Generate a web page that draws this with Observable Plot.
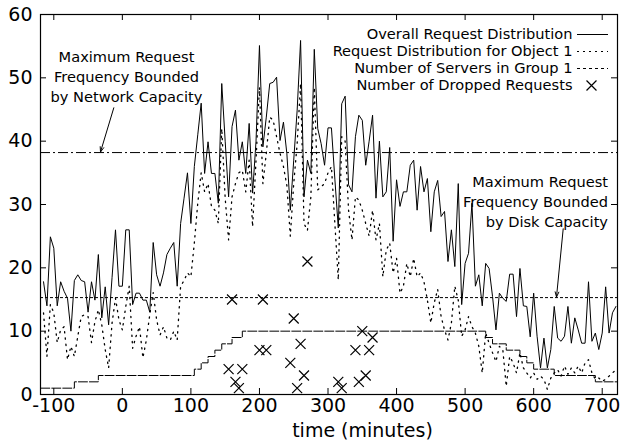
<!DOCTYPE html>
<html><head><meta charset="utf-8">
<script src="https://cdn.jsdelivr.net/npm/d3@7"></script>
<script src="https://cdn.jsdelivr.net/npm/@observablehq/plot@0.6"></script>
<style>html,body{margin:0;padding:0;background:#fff;}</style>
</head><body><div id="chart"></div>
<script>
// sampling grid of the request traces (minutes)
const sampleStart = -115;
const sampleStep = 5;

// Overall Request Distribution (solid)
const overall = [
17.8,14.0,24.9,23.1,14.0,17.8,16.3,15.2,10.0,18.0,
18.9,18.0,17.8,13.0,17.8,14.9,22.1,12.1,17.0,11.0,
18.5,26.0,17.1,17.1,26.0,26.0,14.2,16.0,16.0,14.9,
14.9,13.0,24.0,18.9,17.1,19.2,22.1,23.1,24.0,17.1,
27.0,31.0,35.0,27.0,36.0,41.0,46.0,34.9,39.9,34.9,
34.9,30.2,49.1,40.0,31.2,42.3,44.9,37.0,39.9,34.9,
42.8,31.8,40.0,55.1,39.1,43.8,49.1,49.3,50.1,40.1,
43.0,38.0,29.1,37.0,44.9,55.9,31.2,37.0,34.9,54.5,
42.0,39.6,36.2,42.1,42.1,34.0,26.3,45.9,47.1,33.1,
32.0,40.7,44.1,43.3,36.2,40.0,44.1,31.0,40.0,31.2,
32.0,39.0,24.2,33.9,29.7,32.0,32.0,36.2,37.0,29.1,
36.0,32.0,34.1,25.7,32.0,33.8,28.1,28.9,21.0,26.0,
20.2,33.3,14.2,20.7,22.3,30.2,17.1,18.9,14.0,20.7,
19.9,15.5,10.2,16.0,15.2,14.7,19.0,19.0,12.3,19.9,
14.0,13.9,9.1,16.0,9.2,4.2,8.9,4.2,7.1,13.9,
8.9,8.4,9.2,13.9,8.1,12.1,10.2,8.1,8.1,17.8,
8.4,9.7,7.1,9.7,17.0,9.7,12.9,13.9
];

// Request Distribution for Object 1 (dotted)
const object1 = [
12.9,6.0,14.2,12.9,8.2,10.2,10.7,5.5,7.6,6.0,
9.2,12.3,12.6,12.3,8.2,11.5,13.4,11.0,7.1,4.2,
11.3,15.2,11.8,10.2,13.9,17.1,7.3,9.2,10.7,5.8,
8.6,12.6,16.1,11.8,9.4,10.7,8.9,8.6,10.0,8.6,
17.1,18.0,19.2,18.6,23.9,30.2,35.0,32.0,33.3,29.7,
29.1,27.0,42.0,31.0,24.4,31.2,33.3,35.0,35.4,32.0,
37.0,26.5,37.0,48.5,33.3,38.1,43.8,43.3,40.7,38.1,
36.0,33.0,25.0,33.3,39.6,49.1,27.0,25.9,31.2,48.5,
32.3,32.8,33.3,35.0,36.0,27.0,18.1,40.7,40.0,29.1,
24.4,31.2,30.7,29.1,27.0,25.0,29.1,24.4,27.0,18.6,
22.8,23.9,19.2,21.5,16.0,17.1,20.7,18.6,21.5,18.6,
19.2,17.8,14.9,11.3,14.5,16.6,12.3,10.2,8.6,11.3,
17.1,14.9,9.2,10.2,12.3,10.7,9.7,7.6,3.4,9.7,
8.1,6.6,5.2,7.6,7.1,1.3,6.0,5.0,3.4,6.6,
4.2,3.4,2.6,3.4,2.4,2.9,2.4,0.8,2.6,3.4,
3.9,2.9,4.5,3.2,4.2,3.4,4.5,3.4,5.0,5.5,
3.4,2.4,2.6,2.1,2.4,2.9,3.4,3.9
];

// Number of Servers in Group 1 (step changes)
const serverTimes  = [-119,-70,-35,105,115,125,135,145,160,175,530,540,560,580,590,600,630,690,722];
const serverCounts = [1,2,3,4,5,6,7,8,9,10,9,8,7,6,5,4,3,2,2];

// Number of Dropped Requests
const dropTimes  = [155,160,165,170,175,200,205,210,245,250,255,260,265,270,315,320,340,345,350,355,360,365];
const dropCounts = [4,15,2,1,4,7,15,7,5,12,1,8,3,21,2,1,7,2,10,3,7,9];

// capacity bounds
const networkCap = 38.2;
const diskCap = 15.3;

const xTicks = [-100,0,100,200,300,400,500,600,700];
const yTicks = [0,10,20,30,40,50,60];
const xLabel = "time (minutes)";
const legendLabels = ["Overall Request Distribution","Request Distribution for Object 1","Number of Servers in Group 1","Number of Dropped Requests"];
const networkNote = "Maximum Request\nFrequency Bounded\nby Network Capacity";
const diskNote = "Maximum Request\nFrequency Bounded\nby Disk Capacity";

// ---- layout ----
const W = 620, H = 444;
const mL = 40, mR = 3, mT = 14, mB = 50;
const xDomain = [-119.4, 722.3];
const yDomain = [0, 60];
const px = d3.scaleLinear(xDomain, [mL, W - mR]);
const py = d3.scaleLinear(yDomain, [H - mB, mT]);
const plotW = W - mL - mR, plotH = H - mT - mB;
const FONT = "DejaVu Sans";
const small = 14.6;

const overallData = overall.map((v, i) => ({t: sampleStart + sampleStep * i, v}));
const object1Data = object1.map((v, i) => ({t: sampleStart + sampleStep * i, v}));
const serverData = serverTimes.map((t, i) => ({t, v: serverCounts[i]}));
const dropData = dropTimes.map((t, i) => ({t, v: dropCounts[i]}));

const styles = {
  overall: {strokeWidth: 1},
  object1: {strokeWidth: 1.3, strokeDasharray: "1.3,5"},
  servers: {strokeWidth: 1, strokeDasharray: "9,2"}
};

// legend rows in pixel layout, converted through the scales
const legRowsPx = [34, 51, 68, 85];
const legTextX = px.invert(572), legS1 = px.invert(577), legS2 = px.invert(608), legMark = px.invert(591);
const legRows = legRowsPx.map(y => py.invert(y));

const arrows = [
  {x1: px.invert(113.3), y1: py.invert(107.3), x2: px.invert(100), y2: py.invert(151.5)},
  {x1: px.invert(562.7), y1: py.invert(228.3), x2: px.invert(556), y2: py.invert(296.5)}
];

const chart = Plot.plot({
  width: W, height: H,
  marginLeft: mL, marginRight: mR, marginTop: mT, marginBottom: mB,
  style: {fontFamily: FONT, fontSize: "19px", background: "#fff", color: "black", overflow: "visible"},
  x: {domain: xDomain},
  y: {domain: yDomain},
  marks: [
    Plot.ruleY([networkCap], {stroke: "black", strokeWidth: 1, strokeDasharray: "10,3,2,3"}),
    Plot.ruleY([diskCap], {stroke: "black", strokeWidth: 1, strokeDasharray: "3,2"}),
    Plot.line(serverData, {x: "t", y: "v", curve: "step-after", stroke: "black", ...styles.servers}),
    Plot.line(object1Data, {x: "t", y: "v", stroke: "black", ...styles.object1}),
    Plot.line(overallData, {x: "t", y: "v", stroke: "black", ...styles.overall}),
    Plot.dot(dropData, {x: "t", y: "v", symbol: "times", r: 4.6, stroke: "black", strokeWidth: 1.2}),
    // inward ticks on all four sides
    Plot.tickX(xTicks, {x: d => d, insetTop: plotH - 6, stroke: "black"}),
    Plot.tickX(xTicks, {x: d => d, insetBottom: plotH - 6, stroke: "black"}),
    Plot.tickY(yTicks, {y: d => d, insetRight: plotW - 6, stroke: "black"}),
    Plot.tickY(yTicks, {y: d => d, insetLeft: plotW - 6, stroke: "black"}),
    Plot.frame({stroke: "black", strokeWidth: 1.2}),
    Plot.axisX(xTicks, {tickSize: 0, tickPadding: 4, tickFormat: d => String(d), fontSize: 19}),
    Plot.axisY(yTicks, {tickSize: 0, tickPadding: 8, tickFormat: d => String(d), fontSize: 19}),
    Plot.text([xLabel], {x: px.invert(362), frameAnchor: "bottom", dy: 29, lineAnchor: "top", fontSize: 19, fill: "black"}),
    // annotations
    Plot.text([networkNote], {x: px.invert(126), y: py.invert(75.5), textAnchor: "middle", lineAnchor: "middle", lineHeight: 1.37, fontSize: small, fill: "black"}),
    Plot.text([diskNote], {x: px.invert(607.5), y: py.invert(200.5), textAnchor: "end", lineAnchor: "middle", lineHeight: 1.37, fontSize: small, fill: "black"}),
    Plot.arrow(arrows, {x1: "x1", y1: "y1", x2: "x2", y2: "y2", stroke: "black", strokeWidth: 1, headLength: 8, headAngle: 40}),
    // legend
    Plot.text(legendLabels, {x: legTextX, y: (d, i) => legRows[i], textAnchor: "end", lineAnchor: "middle", fontSize: small, fill: "black"}),
    Plot.ruleY([legRows[0]], {x1: legS1, x2: legS2, stroke: "black", ...styles.overall}),
    Plot.ruleY([legRows[1]], {x1: legS1, x2: legS2, stroke: "black", strokeWidth: 1.2, strokeDasharray: "2,4"}),
    Plot.ruleY([legRows[2]], {x1: legS1, x2: legS2, stroke: "black", strokeWidth: 1, strokeDasharray: "3,3"}),
    Plot.dot([legRows[3]], {x: legMark, y: d => d, symbol: "times", r: 4.6, stroke: "black", strokeWidth: 1.2})
  ]
});
document.getElementById("chart").appendChild(chart);
</script>
</body></html>
